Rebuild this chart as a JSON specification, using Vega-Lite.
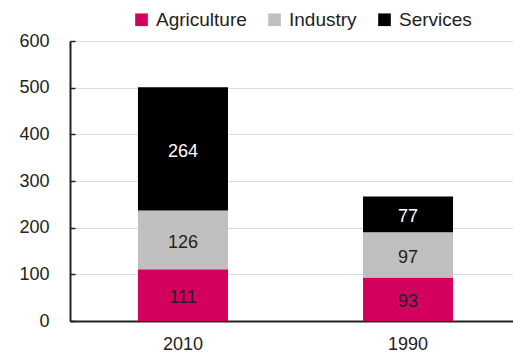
{
  "$schema": "https://vega.github.io/schema/vega-lite/v6.json",
  "width": 451,
  "height": 280,
  "autosize": {"type": "none"},
  "padding": {"left": 70, "top": 41, "right": 0, "bottom": 32},
  "config": {"font": "Liberation Sans", "view": {"stroke": null}},
  "data": {"values": [
    {"year": "2010", "sector": "Agriculture", "value": 111, "ord": 1},
    {"year": "2010", "sector": "Industry", "value": 126, "ord": 2},
    {"year": "2010", "sector": "Services", "value": 264, "ord": 3},
    {"year": "1990", "sector": "Agriculture", "value": 93, "ord": 1},
    {"year": "1990", "sector": "Industry", "value": 97, "ord": 2},
    {"year": "1990", "sector": "Services", "value": 77, "ord": 3}
  ]},
  "transform": [
    {"stack": "value", "groupby": ["year"], "sort": [{"field": "ord", "order": "ascending"}], "as": ["v0", "v1"]},
    {"calculate": "(datum.v0 + datum.v1) / 2", "as": "mid"}
  ],
  "encoding": {
    "x": {"field": "year", "type": "nominal", "sort": ["2010", "1990"],
      "scale": {"paddingInner": 0.6, "paddingOuter": 0.302},
      "axis": {"title": null, "labelAngle": 0, "ticks": false, "labelPadding": 14, "labelFontSize": 18, "labelColor": "#222", "domainColor": "#222", "domainWidth": 2}}
  },
  "layer": [
    {
      "mark": {"type": "bar"},
      "encoding": {
        "y": {"field": "v0", "type": "quantitative", "scale": {"domain": [0, 600]},
          "axis": {"title": null, "values": [0,100,200,300,400,500,600], "labelOverlap": false, "tickSize": -5, "tickColor": "#222", "tickWidth": 1.5, "labelPadding": 26, "labelFontSize": 18, "labelColor": "#222", "domainColor": "#222", "domainWidth": 2, "gridColor": "#dcdcdc", "gridWidth": 1}},
        "y2": {"field": "v1"},
        "color": {"field": "sector", "type": "nominal",
          "scale": {"domain": ["Agriculture", "Industry", "Services"], "range": ["#d4005e", "#bfbfbf", "#000000"]},
          "legend": {"title": null, "orient": "none", "direction": "horizontal", "legendX": 62, "legendY": -31, "symbolType": "square", "symbolSize": 160, "symbolStrokeWidth": 0, "labelFontSize": 19, "labelColor": "#222", "labelOffset": 5, "columnPadding": 18}}
      }
    },
    {
      "mark": {"type": "text", "fontSize": 18, "baseline": "middle", "dy": 3},
      "encoding": {
        "y": {"field": "mid", "type": "quantitative"},
        "text": {"field": "value", "type": "quantitative"},
        "color": {"condition": {"test": "datum.sector === 'Services'", "value": "#ffffff"}, "value": "#222222"}
      }
    }
  ]
}
